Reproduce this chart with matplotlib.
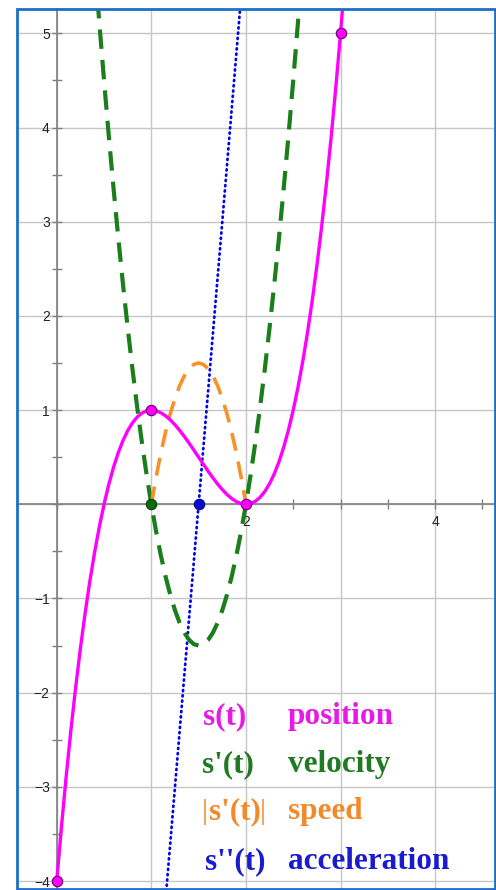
import matplotlib
matplotlib.use('Agg')
import matplotlib.pyplot as plt
from matplotlib.patches import Rectangle
from matplotlib.ticker import MultipleLocator, FuncFormatter

# ---- data ----
t_pos = [0.0, 0.05, 0.1, 0.15, 0.2, 0.25, 0.3, 0.35, 0.4, 0.45, 0.5, 0.55, 0.6, 0.65,
         0.7, 0.75, 0.8, 0.85, 0.9, 0.95, 1.0, 1.05, 1.1, 1.15, 1.2, 1.25, 1.3, 1.35,
         1.4, 1.45, 1.5, 1.55, 1.6, 1.65, 1.7, 1.75, 1.8, 1.85, 1.9, 1.95, 2.0, 2.05,
         2.1, 2.15, 2.2, 2.25, 2.3, 2.35, 2.4, 2.45, 2.5, 2.55, 2.6, 2.65, 2.7, 2.75,
         2.8, 2.85, 2.9, 2.95, 3.0, 3.05, 3.1]
s_pos = [-4.0, -3.42225, -2.888, -2.39575, -1.944, -1.53125, -1.156, -0.81675, -0.512,
         -0.24025, 0.0, 0.21025, 0.392, 0.54675, 0.676, 0.78125, 0.864, 0.92575, 0.968,
         0.99225, 1.0, 0.99275, 0.972, 0.93925, 0.896, 0.84375, 0.784, 0.71825, 0.648,
         0.57475, 0.5, 0.42525, 0.352, 0.28175, 0.216, 0.15625, 0.104, 0.06075, 0.028,
         0.00725, 0.0, 0.00775, 0.032, 0.07425, 0.136, 0.21875, 0.324, 0.45325, 0.608,
         0.78975, 1.0, 1.24025, 1.512, 1.81675, 2.156, 2.53125, 2.944, 3.39575, 3.888,
         4.42225, 5.0, 5.62275, 6.292]

t_vel = [0.3, 0.35, 0.4, 0.45, 0.5, 0.55, 0.6, 0.65, 0.7, 0.75, 0.8, 0.85, 0.9, 0.95,
         1.0, 1.05, 1.1, 1.15, 1.2, 1.25, 1.3, 1.35, 1.4, 1.45, 1.5, 1.55, 1.6, 1.65,
         1.7, 1.75, 1.8, 1.85, 1.9, 1.95, 2.0, 2.05, 2.1, 2.15, 2.2, 2.25, 2.3, 2.35,
         2.4, 2.45, 2.5, 2.55, 2.6, 2.65, 2.7]
v_vel = [7.14, 6.435, 5.76, 5.115, 4.5, 3.915, 3.36, 2.835, 2.34, 1.875, 1.44, 1.035,
         0.66, 0.315, 0.0, -0.285, -0.54, -0.765, -0.96, -1.125, -1.26, -1.365, -1.44,
         -1.485, -1.5, -1.485, -1.44, -1.365, -1.26, -1.125, -0.96, -0.765, -0.54,
         -0.285, 0.0, 0.315, 0.66, 1.035, 1.44, 1.875, 2.34, 2.835, 3.36, 3.915, 4.5,
         5.115, 5.76, 6.435, 7.14]

t_spd = [1.0, 1.05, 1.1, 1.15, 1.2, 1.25, 1.3, 1.35, 1.4, 1.45, 1.5, 1.55, 1.6, 1.65,
         1.7, 1.75, 1.8, 1.85, 1.9, 1.95, 2.0]
v_spd = [0.0, 0.285, 0.54, 0.765, 0.96, 1.125, 1.26, 1.365, 1.44, 1.485, 1.5, 1.485,
         1.44, 1.365, 1.26, 1.125, 0.96, 0.765, 0.54, 0.285, 0.0]

t_acc = [1.15, 1.95]
a_acc = [-4.2, 5.4]

pts_pos_t = [0, 1, 2, 3]
pts_pos_s = [-4, 1, 0, 5]
pts_vel_t = [1]
pts_vel_v = [0]
pts_acc_t = [1.5]
pts_acc_v = [0]

x_tick_labels = [2, 4]
legend_syms = ["s(t)", "s'(t)", "s'(t)", "s''(t)"]
legend_words = ["position", "velocity", "speed", "acceleration"]

# ---- styling ----
C_POS = '#ff00ff'
C_VEL = '#1a7f1a'
C_SPD = '#f7922a'
C_ACC = '#0000ee'
T_POS = '#e619e6'
T_VEL = '#217a21'
T_SPD = '#f08a2a'
T_ACC = '#1a1ad0'

plt.rcParams['lines.scale_dashes'] = False

fig = plt.figure(figsize=(4.96, 8.90), dpi=100)
ax = fig.add_axes([17/496, 1/890, 478/496, 880/890])
ax.set_xlim(-0.42, 4.633)
ax.set_ylim(-4.084, 5.258)

# grid
ax.xaxis.set_major_locator(MultipleLocator(1))
ax.yaxis.set_major_locator(MultipleLocator(1))
ax.xaxis.set_minor_locator(MultipleLocator(0.5))
ax.yaxis.set_minor_locator(MultipleLocator(0.5))
ax.grid(True, which='major', color='#c6c6c6', linewidth=1.0, zorder=0)
ax.set_axisbelow(True)

ax.xaxis.set_major_formatter(FuncFormatter(
    lambda v, p: f"{int(round(v))}" if round(v) in x_tick_labels and abs(v - round(v)) < 1e-6 else ""))
ax.yaxis.set_major_formatter(FuncFormatter(
    lambda v, p: "" if abs(v) < 1e-6 else f"\u2212{abs(int(round(v)))}" if v < 0 else f"{int(round(v))}"))

for side in ['top', 'right']:
    ax.spines[side].set_visible(False)
for side in ['left', 'bottom']:
    ax.spines[side].set_position(('data', 0))
    ax.spines[side].set_color('#808080')
    ax.spines[side].set_linewidth(1.2)
    ax.spines[side].set_zorder(1)

ax.tick_params(which='both', direction='inout', length=7, width=1.0, color='#808080')
ax.tick_params(axis='y', which='major', labelsize=10, labelcolor='#222222', pad=1.5)
ax.tick_params(axis='x', which='major', labelsize=10, labelcolor='#222222', pad=4)
for lab in ax.get_xticklabels() + ax.get_yticklabels():
    lab.set_fontfamily('Liberation Sans')

# blue frame
ax.add_patch(Rectangle((0, 0), 1, 1, transform=ax.transAxes, fill=False,
                       edgecolor='#1b6fc8', linewidth=2.0, clip_on=False, zorder=10))

# curves
ax.plot(t_acc, a_acc, color=C_ACC, linewidth=2.0, linestyle=(0, (0.8, 3.0)),
        dash_capstyle='round', zorder=2)
ax.plot(t_vel, v_vel, color=C_VEL, linewidth=3.0, linestyle=(0, (14, 8)),
        dash_capstyle='butt', zorder=3)
ax.plot(t_spd, v_spd, color=C_SPD, linewidth=2.6, linestyle=(0, (13, 8)),
        dash_capstyle='butt', zorder=3)
ax.plot(t_pos, s_pos, color=C_POS, linewidth=2.4, zorder=4, solid_capstyle='round')

# points
ax.plot(pts_vel_t, pts_vel_v, 'o', color='#0b6b0b', markeredgecolor='#053d05',
        markersize=7.5, markeredgewidth=0.8, zorder=6, clip_on=False)
ax.plot(pts_acc_t, pts_acc_v, 'o', color='#0a0ad8', markeredgecolor='#05056e',
        markersize=7.5, markeredgewidth=0.8, zorder=6, clip_on=False)
ax.plot(pts_pos_t, pts_pos_s, 'o', color=C_POS, markeredgecolor='#6d006d',
        markersize=7.5, markeredgewidth=0.8, zorder=7, clip_on=False)

# legend text
def px2x(px):
    return (px - 56.7) / 94.6

def py2y(py):
    return (504.3 - py) / 94.2

sym_colors = [T_POS, T_VEL, T_SPD, T_ACC]
rows = [717, 765, 812, 862]
sym_x = [203, 202, 209, 205]
word_x = 288
font = dict(family='Liberation Serif', weight='bold', fontsize=22.5)
texts = []
for sym, word, col, ry, sx in zip(legend_syms, legend_words, sym_colors, rows, sym_x):
    t1 = ax.text(px2x(sx), py2y(ry), sym, color=col, ha='left', va='center', zorder=8, **font)
    ax.text(px2x(word_x), py2y(ry), word, color=col, ha='left', va='center', zorder=8, **font)
    texts.append(t1)

# absolute value bars around speed symbol
fig.canvas.draw()
r = fig.canvas.get_renderer()
bb = texts[2].get_window_extent(renderer=r)
inv = ax.transData.inverted()
x_left = inv.transform((bb.x0 - 4, 0))[0]
x_right = inv.transform((bb.x1 + 2, 0))[0]
for xb in (x_left, x_right):
    ax.text(xb, py2y(812), "|", color=T_SPD, ha='center', va='center', zorder=8,
            family='Liberation Serif', weight='light', fontsize=21)

fig.savefig('out.png', dpi=100)
